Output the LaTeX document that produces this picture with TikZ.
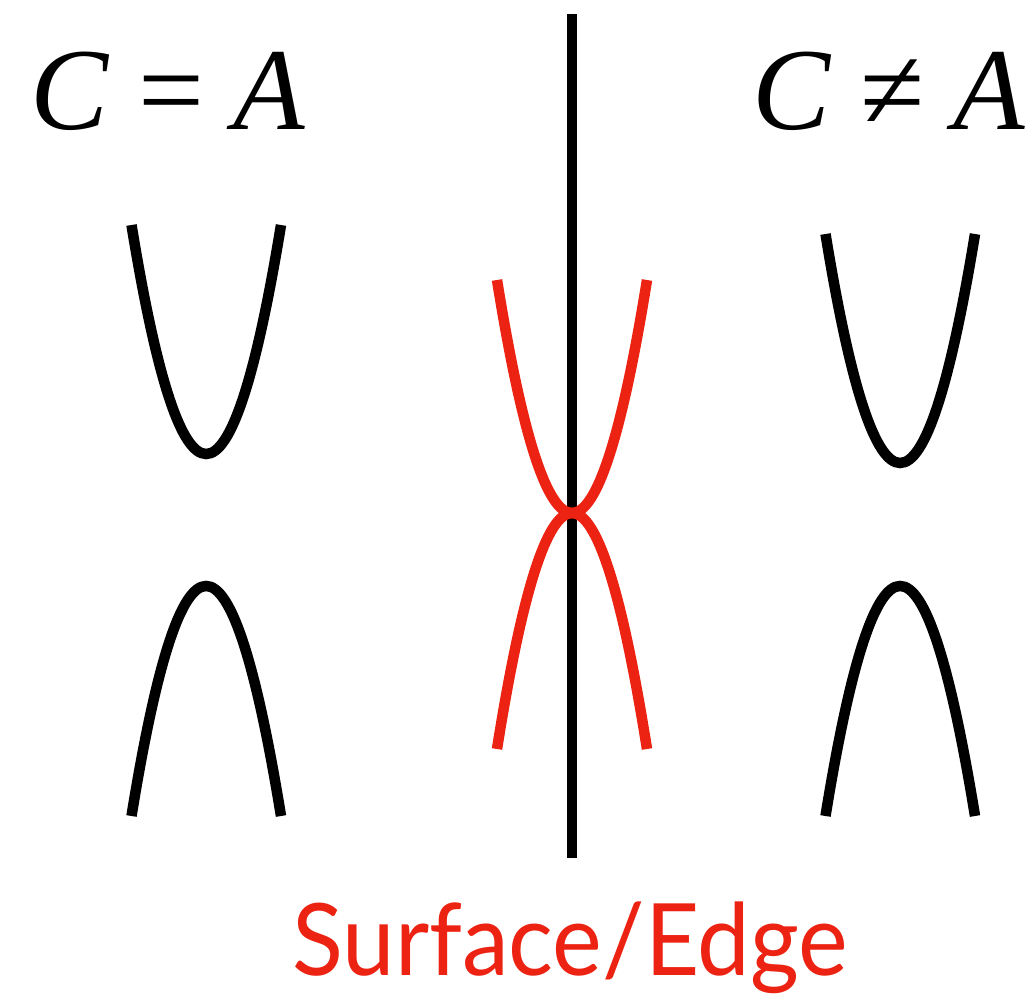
\documentclass[tikz,border=0pt]{standalone}
\usepackage{graphicx}
\usepackage{fontspec}
\setmainfont{Liberation Serif}
\newfontfamily\labelfont{Lato}
\definecolor{edgered}{RGB}{236,34,18}
\tikzset{
  curve/.style={line width=10.5pt, line cap=butt},
  eqlabel/.style={inner sep=0pt, font=\fontsize{117}{125}\selectfont},
}
\begin{document}
\begin{tikzpicture}[x=1pt,y=-1pt]
\useasboundingbox (0,0) rectangle (1036,1007);
% vertical axis
\coordinate (top) at (572,14);
\coordinate (bot) at (572,858);
\draw[curve] (top) -- (bot);
% left parabolas
\draw[curve] (131.5,225) .. controls (181.2,530.3) and (231,530.3) .. (281,225);
\draw[curve] (131.5,816) .. controls (181.2,509.3) and (231,509.3) .. (281,816);
% right parabolas
\draw[curve] (825.5,234) .. controls (875.2,539.3) and (925,539.3) .. (975,234);
\draw[curve] (825.5,816) .. controls (875.2,509.3) and (925,509.3) .. (975,816);
% red
\draw[curve, edgered] (497,280) .. controls (547,590.7) and (597,590.7) .. (647,280);
\draw[curve, edgered] (497,749) .. controls (547,434.3) and (597,434.3) .. (647,749);
% labels
\node[eqlabel, anchor=base west] (eq) at (30,129) {\textit{C} = \textit{A}};
\node[eqlabel, anchor=base east] (neq) at (1026,129) {\textit{C} ≠ \textit{A}};
\node[inner sep=0pt, anchor=base, text=edgered, font=\labelfont\fontsize{100}{110}\selectfont] (se) at (570,975) {\scalebox{0.94}[1]{Surface/Edge}};
\end{tikzpicture}
\end{document}
